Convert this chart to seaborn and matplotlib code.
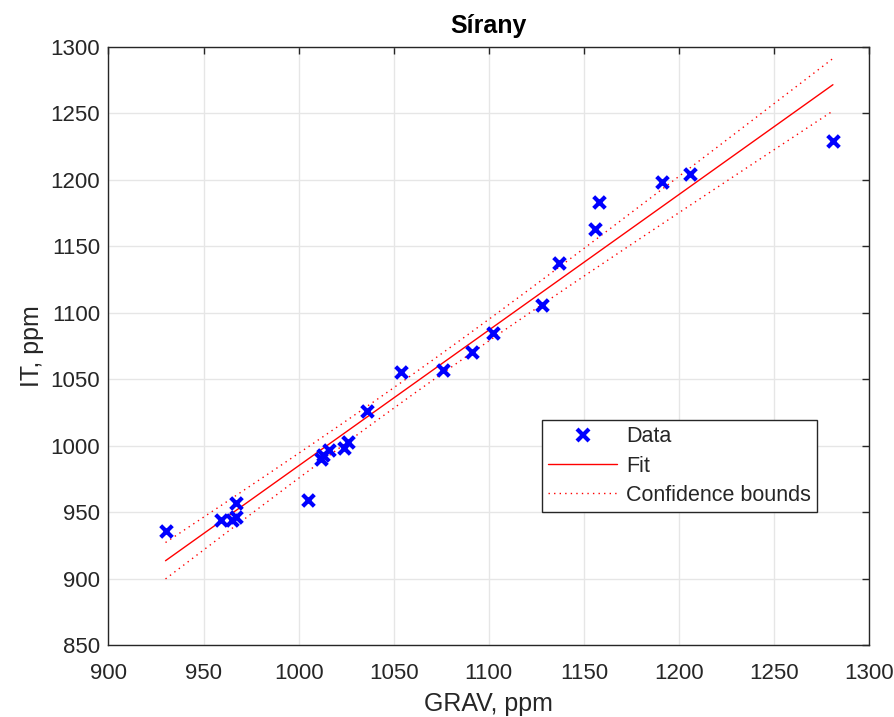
import numpy as np
import pandas as pd
import matplotlib
matplotlib.use("Agg")
import matplotlib.pyplot as plt
import seaborn as sns
from matplotlib.lines import Line2D

# ---- data ----
grav = [930, 959, 965, 967, 967, 1005, 1012, 1013, 1016, 1024, 1026, 1036,
        1054, 1076, 1091, 1102, 1128, 1137, 1156, 1158, 1191, 1206, 1281]
it = [936, 944, 944, 946, 957, 959, 990, 993, 997, 998, 1003, 1026,
      1055, 1057, 1070, 1085, 1106, 1137, 1163, 1183, 1198, 1204, 1229]
title = "Sírany"
xlabel = "GRAV, ppm"
ylabel = "IT, ppm"
xticks = [900, 950, 1000, 1050, 1100, 1150, 1200, 1250, 1300]
yticks = [850, 900, 950, 1000, 1050, 1100, 1150, 1200, 1250, 1300]
legend_labels = ["Data", "Fit", "Confidence bounds"]

# ---- linear fit with 95% confidence bounds on the fitted function ----
x = np.array(grav, float)
y = np.array(it, float)
n = len(x)
b, a = np.polyfit(x, y, 1)
resid = y - (a + b * x)
s = np.sqrt(np.sum(resid ** 2) / (n - 2))
sxx = np.sum((x - x.mean()) ** 2)
t95 = 2.080  # t(0.975, df=21)
xf = np.linspace(x.min(), x.max(), 200)
yf = a + b * xf
half = t95 * s * np.sqrt(1.0 / n + (xf - x.mean()) ** 2 / sxx)
fit_df = pd.DataFrame({"x": xf, "fit": yf, "lo": yf - half, "hi": yf + half})
data_df = pd.DataFrame({"GRAV": grav, "IT": it})

sns.set_style("white")
plt.rcParams["font.family"] = ["Liberation Sans", "DejaVu Sans"]

fig = plt.figure(figsize=(8.95, 7.17), dpi=100)
ax = fig.add_axes([0.1212, 0.1004, 0.8498, 0.8345])

sns.scatterplot(data=data_df, x="GRAV", y="IT", ax=ax, marker="x", color="#0000ff",
                s=70, linewidth=3, zorder=3, legend=False)
sns.lineplot(data=fit_df, x="x", y="fit", ax=ax, color="#ff0000", lw=1.0, zorder=2)
sns.lineplot(data=fit_df, x="x", y="lo", ax=ax, color="#ff0000", lw=1.0,
             linestyle=(0, (1, 3)), zorder=2)
sns.lineplot(data=fit_df, x="x", y="hi", ax=ax, color="#ff0000", lw=1.0,
             linestyle=(0, (1, 3)), zorder=2)

ax.set_xlim(900, 1300)
ax.set_ylim(850, 1300)
ax.set_xticks(xticks)
ax.set_yticks(yticks)
ax.grid(True, color="#e6e6e6", lw=1.0)
ax.set_axisbelow(True)
for sp in ax.spines.values():
    sp.set_visible(True)
    sp.set_color("#262626")
    sp.set_linewidth(1.0)
ax.tick_params(direction="in", length=5, width=1, color="#262626",
               top=True, right=True, labelsize=16, labelcolor="#262626", pad=6)
ax.tick_params(axis="x", pad=13)
ax.set_xlabel(xlabel, fontsize=18, color="#262626", labelpad=6)
ax.set_ylabel(ylabel, fontsize=18, color="#262626", labelpad=5)
ax.set_title(title, fontsize=18, fontweight="bold", color="black", pad=10)

handles = [
    Line2D([], [], marker="x", color="#0000ff", linestyle="none", markersize=8, mew=3),
    Line2D([], [], color="#ff0000", lw=1.0),
    Line2D([], [], color="#ff0000", lw=1.0, linestyle=(0, (1, 3))),
]
leg = ax.legend(handles, legend_labels, loc="lower left", bbox_to_anchor=(0.570, 0.222),
                borderaxespad=0, fontsize=15.5, frameon=True, fancybox=False, framealpha=1,
                edgecolor="#262626", handlelength=3.2, borderpad=0.3,
                labelspacing=0.38, handletextpad=0.4)
leg.get_frame().set_linewidth(1.0)

fig.savefig("out.png", dpi=100)
